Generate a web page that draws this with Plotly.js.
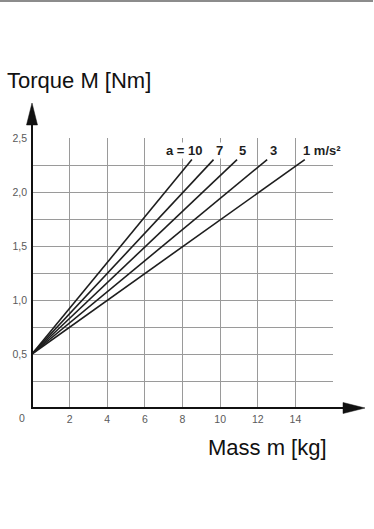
<!DOCTYPE html>
<html>
<head>
<meta charset="utf-8">
<script src="https://cdn.plot.ly/plotly-3.0.1.min.js"></script>
<style>html,body{margin:0;padding:0;background:#fff;}#chart{width:374px;height:529px;}</style>
</head>
<body>
<div id="chart"></div>
<script>
// Data
const seriesNames = ["a = 10", "7", "5", "3", "1 m/s²"];
const massValues = [
  [0, 8.5],
  [0, 9.65],
  [0, 10.9],
  [0, 12.5],
  [0, 14.5]
];
const torqueValues = [
  [0.5, 2.3],
  [0.5, 2.3],
  [0.5, 2.3],
  [0.5, 2.3],
  [0.5, 2.3]
];
const xTickVals = [2, 4, 6, 8, 10, 12, 14];
const xTickText = ["2", "4", "6", "8", "10", "12", "14"];
const yTickVals = [0.5, 1.0, 1.5, 2.0, 2.5];
const yTickText = ["0,5", "1,0", "1,5", "2,0", "2,5"];
const yMinorGrid = [0.25, 0.75, 1.25, 1.75, 2.25];
const xMinorGrid = [16];
const labelX = [8.1, 9.95, 11.2, 12.85, 15.4];

// Layout geometry (pixels)
const W = 374, H = 529;
const L = 32, R = 41, T = 138, B = 121;
const pw = W - L - R, ph = H - T - B;
const px = x => (x - L) / pw;
const py = y => (H - B - y) / ph;

const traces = seriesNames.map((n, i) => ({
  type: 'scatter', mode: 'lines', name: n,
  x: massValues[i], y: torqueValues[i],
  line: {color: '#1e1e1e', width: 1.6},
  hoverinfo: 'skip', showlegend: false
}));

const tickFont = {family: 'Liberation Sans, Arial, sans-serif', size: 10.5, color: '#5a5a5a'};

const annotations = seriesNames.map((n, i) => ({
  x: labelX[i], y: 2.385, xref: 'x', yref: 'y',
  text: n, showarrow: false,
  font: {family: 'Liberation Sans, Arial, sans-serif', size: 13, color: '#1e1e1e', weight: 'bold'},
  xanchor: 'center', yanchor: 'middle',
  bgcolor: '#ffffff', borderpad: 0
}));
annotations.push({
  x: px(22), y: py(418), xref: 'paper', yref: 'paper', text: '0', showarrow: false,
  font: tickFont, xanchor: 'center', yanchor: 'middle'
});
annotations.push({
  x: px(5), y: py(80), xref: 'paper', yref: 'paper', text: 'Torque M [Nm]', showarrow: false,
  font: {family: 'Liberation Sans, Arial, sans-serif', size: 22, color: '#111'},
  xanchor: 'left', yanchor: 'middle'
});
annotations.push({
  x: px(329), y: py(447), xref: 'paper', yref: 'paper', text: 'Mass m [kg]', showarrow: false,
  font: {family: 'Liberation Sans, Arial, sans-serif', size: 22, color: '#111'},
  xanchor: 'right', yanchor: 'middle'
});

const shapes = [
  // top gray rule
  {type: 'line', xref: 'paper', yref: 'paper', x0: px(0), x1: px(373), y0: py(1), y1: py(1),
   line: {color: '#8c8c8c', width: 2}},
  // y axis line
  {type: 'line', xref: 'paper', yref: 'paper', x0: px(32), x1: px(32), y0: py(409), y1: py(124),
   line: {color: '#111', width: 2}},
  // x axis line
  {type: 'line', xref: 'paper', yref: 'paper', x0: px(31), x1: px(344), y0: py(408), y1: py(408),
   line: {color: '#111', width: 2}},
  // y arrow head
  {type: 'path', xref: 'paper', yref: 'paper',
   path: `M ${px(26.5)} ${py(125)} L ${px(32)} ${py(103)} L ${px(37.5)} ${py(125)} Z`,
   fillcolor: '#111', line: {color: '#111', width: 0.5}},
  // x arrow head
  {type: 'path', xref: 'paper', yref: 'paper',
   path: `M ${px(343)} ${py(402.5)} L ${px(365)} ${py(408)} L ${px(343)} ${py(413.5)} Z`,
   fillcolor: '#111', line: {color: '#111', width: 0.5}}
];

const layout = {
  width: W, height: H,
  margin: {l: L, r: R, t: T, b: B, pad: 0},
  paper_bgcolor: '#fff', plot_bgcolor: '#fff',
  showlegend: false,
  xaxis: {
    range: [0, 16], fixedrange: true,
    tickmode: 'array', tickvals: xTickVals, ticktext: xTickText,
    showgrid: true, gridcolor: '#9a9a9a', gridwidth: 1,
    minor: {tickmode: 'array', tickvals: xMinorGrid, showgrid: true, gridcolor: '#9a9a9a', gridwidth: 1},
    zeroline: false, showline: false, ticks: '',
    tickfont: tickFont, ticklabelstandoff: 3
  },
  yaxis: {
    range: [0, 2.5], fixedrange: true,
    tickmode: 'array', tickvals: yTickVals, ticktext: yTickText,
    showgrid: true, gridcolor: '#9a9a9a', gridwidth: 1,
    minor: {tickmode: 'array', tickvals: yMinorGrid, showgrid: true, gridcolor: '#9a9a9a', gridwidth: 1},
    zeroline: false, showline: false, ticks: '',
    tickfont: tickFont, ticklabelstandoff: 4
  },
  shapes: shapes,
  annotations: annotations
};

Plotly.newPlot('chart', traces, layout, {staticPlot: true, displayModeBar: false});
</script>
</body>
</html>
